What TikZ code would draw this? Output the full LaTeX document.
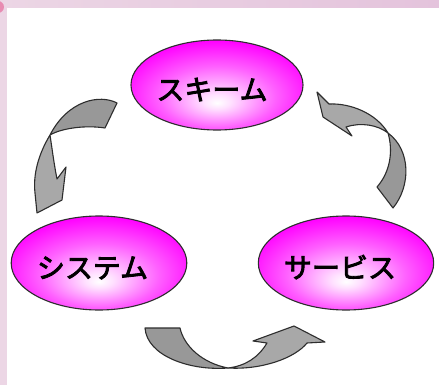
\documentclass[tikz,border=0pt]{standalone}
\usepackage{fontspec}
\newfontfamily\jpfont[FakeBold=3]{Noto Sans CJK JP}
\usetikzlibrary{shapes.geometric}
\definecolor{bandpink}{RGB}{236,214,229}
\definecolor{bandlilac}{RGB}{228,195,220}
\definecolor{cornerpink}{RGB}{232,140,178}
\definecolor{tailgray}{RGB}{152,152,152}
\definecolor{headgray}{RGB}{168,168,168}
\definecolor{edgegray}{RGB}{45,45,45}
\pgfdeclareradialshading{pinkglow}{\pgfpoint{0bp}{-10bp}}{color(0bp)=(white); color(4bp)=(magenta!12!white); color(17bp)=(magenta!62!white); color(29bp)=(magenta); color(50bp)=(magenta)}
\tikzset{
  blob/.style={ellipse, draw=edgegray, line width=1.1pt, shading=pinkglow, shade,
    minimum width=172pt, minimum height=94pt, inner sep=0pt,
    text height=30pt, text depth=0pt,
    font=\jpfont\fontsize{28}{30}\selectfont},
  tailpart/.style={draw=edgegray, line width=1.1pt, fill=tailgray, line join=round},
  headpart/.style={draw=edgegray, line width=1.1pt, fill=headgray, line join=round},
}

\begin{document}
\begin{tikzpicture}[x=1pt,y=-1pt]
          \useasboundingbox (0,0) rectangle (439,385);
          \fill[white] (0,0) rectangle (439,385);
          % frame bands
          \shade[left color=bandpink,right color=bandlilac] (0,0) rectangle (439,8);
          \fill[bandpink] (0,0) rectangle (7,385);
          \begin{scope}
            \clip (0,0) rectangle (7,16);
            \fill[cornerpink] (-2,7) circle(6);
          \end{scope}
          % the three ellipses
          \node[blob,minimum height=90pt] (scheme) at (217,85) {スキーム\hspace*{10pt}};
          \node[blob] (system) at (99,263) {システム\hspace*{13pt}};
          \node[blob] (service) at (346,263) {サービス\hspace*{12pt}};
          % scheme -> system
          \draw[tailpart] (117,103) .. controls (100,94) and (68,100) .. (50,135)
            .. controls (62,128) and (86,125) .. (105,128) -- cycle;
          \draw[headpart] (50,135) .. controls (38,155) and (33,175) .. (35,193)
            -- (37,213) -- (62,200) -- (66,167) -- (57,179)
            .. controls (54,164) and (52,148) .. (50,135) -- cycle;
          % system -> service
          \draw[tailpart] (145,328) -- (180,328) .. controls (184,346) and (202,363) .. (228,368)
            .. controls (190,371) and (147,356) .. (145,328) -- cycle;
          \draw[headpart] (228,368) .. controls (262,370) and (295,358) .. (307,343)
            -- (325,342) -- (294,326) -- (253,341) -- (267,343)
            .. controls (258,358) and (245,366) .. (228,368) -- cycle;
          % service -> scheme
          \draw[tailpart] (393,208) .. controls (411,186) and (411,150) .. (388,133)
            .. controls (393,150) and (391,171) .. (377,187) -- cycle;
          \draw[headpart] (388,133) .. controls (376,113) and (350,103) .. (329,104)
            -- (317,92) -- (323,117) -- (352,136) -- (346,127)
            .. controls (361,122) and (378,125) .. (388,133) -- cycle;
        \end{tikzpicture}
\end{document}
